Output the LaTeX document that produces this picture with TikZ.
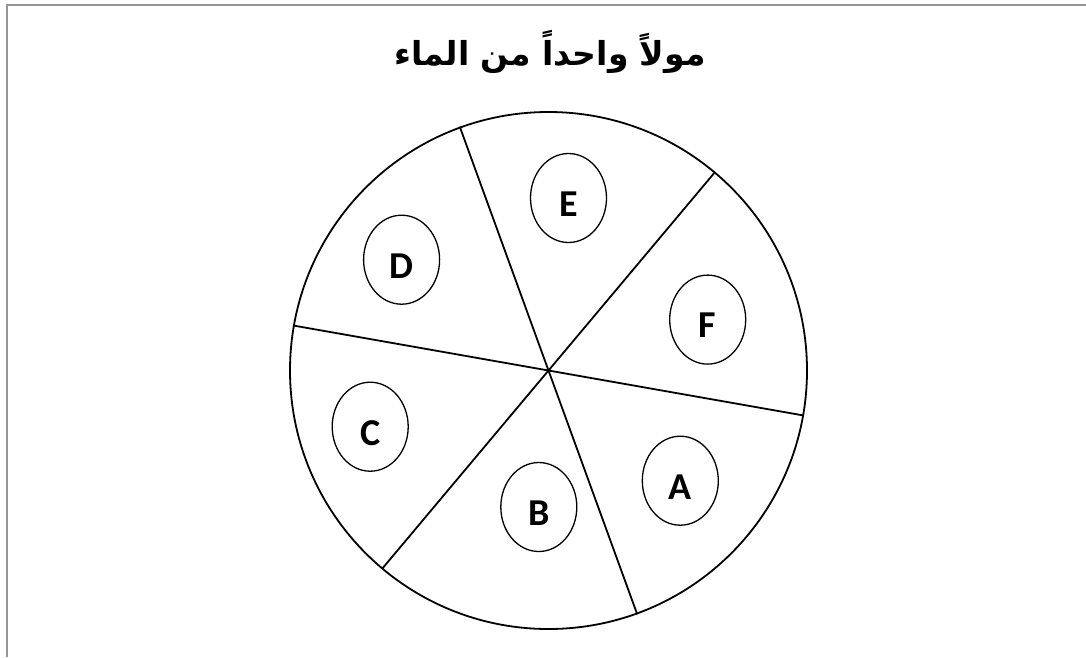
\documentclass[tikz,border=0pt]{standalone}
\usepackage{fontspec}
\setsansfont{Carlito}
\newfontfamily\arabicfont[Script=Arabic]{DejaVu Sans}
\TeXXeTstate=1
\usetikzlibrary{shapes.geometric}
\definecolor{framegray}{RGB}{150,150,150}
\begin{document}
\begin{tikzpicture}[x=1pt,y=-1pt,
  wheelstyle/.style={draw, circle, line width=1.8pt, minimum size=517pt, inner sep=0pt},
  divider/.style={line width=1.8pt},
  slot/.style={draw, ellipse, line width=1.3pt, minimum width=76pt, minimum height=89pt, inner sep=0pt},
  letter/.style={font=\sffamily\bfseries\fontsize{38}{44}\selectfont, inner sep=0pt},
  titlestyle/.style={font=\arabicfont\bfseries\fontsize{33}{40}\selectfont, inner sep=0pt}]
\useasboundingbox (0,0) rectangle (1086,657);
\fill[white] (0,0) rectangle (1086,657);
\coordinate (fbl) at (6.5,657);
\coordinate (ftl) at (6.5,4.5);
\coordinate (ftr) at (1086,4.5);
\draw[framegray, line width=2pt] (fbl) -- (ftl) -- (ftr);
\node[titlestyle] (title) at (550,52) {\beginR مولاً واحداً من الماء\endR};
\node[wheelstyle] (wheel) at (548.5,370.5) {};
\draw[divider] (wheel.170) -- (wheel.-10);
\draw[divider] (wheel.110) -- (wheel.-70);
\draw[divider] (wheel.50) -- (wheel.230);
\node[slot] (eA) at (680.3,480.7) {};
\node[slot] (eB) at (538.8,507) {};
\node[slot] (eC) at (370.2,426.7) {};
\node[slot] (eD) at (401.6,259.7) {};
\node[slot] (eE) at (568.5,198) {};
\node[slot] (eF) at (707.7,319.6) {};
\node[letter] (lA) at ([yshift=-6pt]eA.center) {A};
\node[letter] (lB) at ([yshift=-6pt]eB.center) {B};
\node[letter] (lC) at ([yshift=-6pt]eC.center) {C};
\node[letter] (lD) at ([yshift=-6pt]eD.center) {D};
\node[letter] (lE) at ([yshift=-6pt]eE.center) {E};
\node[letter] (lF) at ([yshift=-6pt]eF.center) {F};
\end{tikzpicture}
\end{document}
